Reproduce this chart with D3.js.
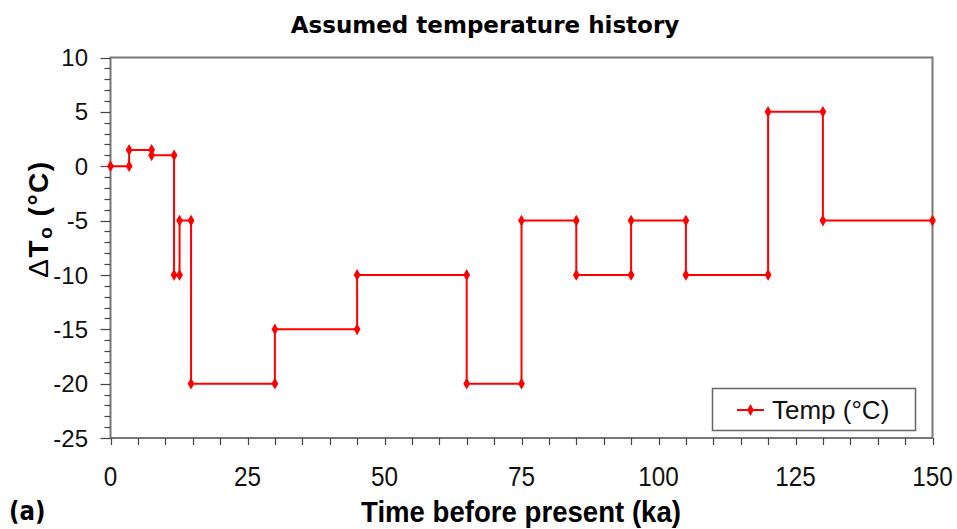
<!DOCTYPE html>
<html>
<head>
<meta charset="utf-8">
<script src="https://cdn.jsdelivr.net/npm/d3@7"></script>
<style>
  html, body { margin: 0; padding: 0; background: #fff; }
  svg { display: block; }
</style>
</head>
<body>
<svg id="chart" width="957" height="529"></svg>
<script>
// Step history of the assumed surface temperature offset
const timeKa = [0, 3.4, 3.4, 7.5, 7.5, 11.6, 11.6, 12.6, 12.6, 14.7, 14.7, 30, 30, 45, 45, 65, 65, 75, 75, 85, 85, 95, 95, 105, 105, 120, 120, 130, 130, 150];
const deltaT = [0, 0, 1.5, 1.5, 1, 1, -10, -10, -5, -5, -20, -20, -15, -15, -10, -10, -20, -20, -5, -5, -10, -10, -5, -5, -10, -10, 5, 5, -5, -5];
const xTicks = [0, 25, 50, 75, 100, 125, 150];
const yTicks = [10, 5, 0, -5, -10, -15, -20, -25];
const seriesName = "Temp (°C)";

const svg = d3.select("#chart");
const plotL = 110.5, plotR = 932.5, plotT = 57.5, plotB = 438;

const x = d3.scaleLinear().domain([0, 150]).range([plotL, plotR]);
const y = d3.scaleLinear().domain([-25, 10]).range([plotB, plotT]);

const axisColor = "#777";
const tickColor = "#444";

// plot frame
svg.append("rect")
  .attr("x", plotL).attr("y", plotT)
  .attr("width", plotR - plotL).attr("height", plotB - plotT)
  .attr("fill", "none").attr("stroke", axisColor).attr("stroke-width", 2);

// y axis: minor ticks every 1 unit, labelled ticks every 5
const yMinor = d3.range(-25, 10.001, 1);
svg.append("g").selectAll("line").data(yMinor).join("line")
  .attr("x1", d => plotL - (d % 5 === 0 ? 10 : 6)).attr("x2", plotL)
  .attr("y1", d => Math.round(y(d)) + 0.5).attr("y2", d => Math.round(y(d)) + 0.5)
  .attr("stroke", tickColor).attr("stroke-width", 1.2);

svg.append("g").selectAll("text").data(yTicks).join("text")
  .attr("x", 88).attr("y", d => y(d))
  .attr("dy", "0.36em")
  .attr("text-anchor", "end")
  .attr("font-family", "Liberation Sans, Arial, sans-serif")
  .attr("font-size", 24)
  .attr("fill", "#111")
  .text(d => d);

// x axis: ticks every 5 ka
const xMinor = d3.range(0, 150.001, 5);
svg.append("g").selectAll("line").data(xMinor).join("line")
  .attr("x1", d => Math.round(x(d)) + 0.5).attr("x2", d => Math.round(x(d)) + 0.5)
  .attr("y1", plotB).attr("y2", plotB + 7)
  .attr("stroke", tickColor).attr("stroke-width", 1.2);

svg.append("g").selectAll("text").data(xTicks).join("text")
  .attr("transform", d => `translate(${x(d)},486) scale(0.9,1)`)
  .attr("text-anchor", "middle")
  .attr("font-family", "Liberation Sans, Arial, sans-serif")
  .attr("font-size", 27)
  .attr("fill", "#111")
  .text(d => d);

// step line with point markers
const pts = timeKa.map((t, i) => [t, deltaT[i]]);
svg.append("path")
  .datum(pts)
  .attr("d", d3.line().x(d => x(d[0])).y(d => y(d[1])))
  .attr("fill", "none").attr("stroke", "#ff0000").attr("stroke-width", 2)
  .attr("stroke-linejoin", "miter");

const marker = d3.symbol().type(d3.symbolDiamond).size(40);
svg.append("g").selectAll("path").data(pts).join("path")
  .attr("transform", d => `translate(${x(d[0])},${y(d[1])})`)
  .attr("d", marker)
  .attr("fill", "#ff0000");

// legend
const lg = svg.append("g");
lg.append("rect").attr("x", 712.5).attr("y", 388.5).attr("width", 203).attr("height", 42)
  .attr("fill", "#fff").attr("stroke", "#666").attr("stroke-width", 1.5);
lg.append("line").attr("x1", 737).attr("x2", 764).attr("y1", 410).attr("y2", 410)
  .attr("stroke", "#ff0000").attr("stroke-width", 2);
lg.append("path").attr("transform", "translate(750.5,410)").attr("d", marker).attr("fill", "#ff0000");
lg.append("text").attr("x", 772).attr("y", 419)
  .attr("font-family", "Liberation Sans, Arial, sans-serif")
  .attr("font-size", 26).attr("fill", "#111")
  .text(seriesName);

// titles
svg.append("text").attr("x", 485).attr("y", 33)
  .attr("text-anchor", "middle")
  .attr("font-family", "DejaVu Sans, Verdana, sans-serif")
  .attr("font-weight", "bold").attr("font-size", 23)
  .attr("fill", "#000")
  .text("Assumed temperature history");

svg.append("text")
  .attr("transform", "translate(521,522) scale(0.92,1)")
  .attr("text-anchor", "middle")
  .attr("font-family", "Liberation Sans, Arial, sans-serif")
  .attr("font-weight", "bold").attr("font-size", 30)
  .attr("fill", "#000")
  .text("Time before present (ka)");

svg.append("text").attr("transform", "translate(9,520) scale(0.85,1)")
  .attr("font-family", "DejaVu Sans, Verdana, sans-serif")
  .attr("font-weight", "bold").attr("font-size", 27)
  .attr("fill", "#000")
  .text("(a)");

const yt = svg.append("text")
  .attr("transform", "translate(48,219) rotate(-90)")
  .attr("text-anchor", "middle")
  .attr("font-family", "Liberation Sans, Arial, sans-serif")
  .attr("font-weight", "bold").attr("font-size", 28)
  .attr("letter-spacing", 1.5)
  .attr("fill", "#000");
yt.append("tspan").attr("font-weight", "normal").text("Δ");
yt.append("tspan").text("T");
yt.append("tspan").attr("font-size", 19).attr("dy", 4).text("o");
yt.append("tspan").attr("dy", -4).text(" (°C)");
</script>
</body>
</html>
